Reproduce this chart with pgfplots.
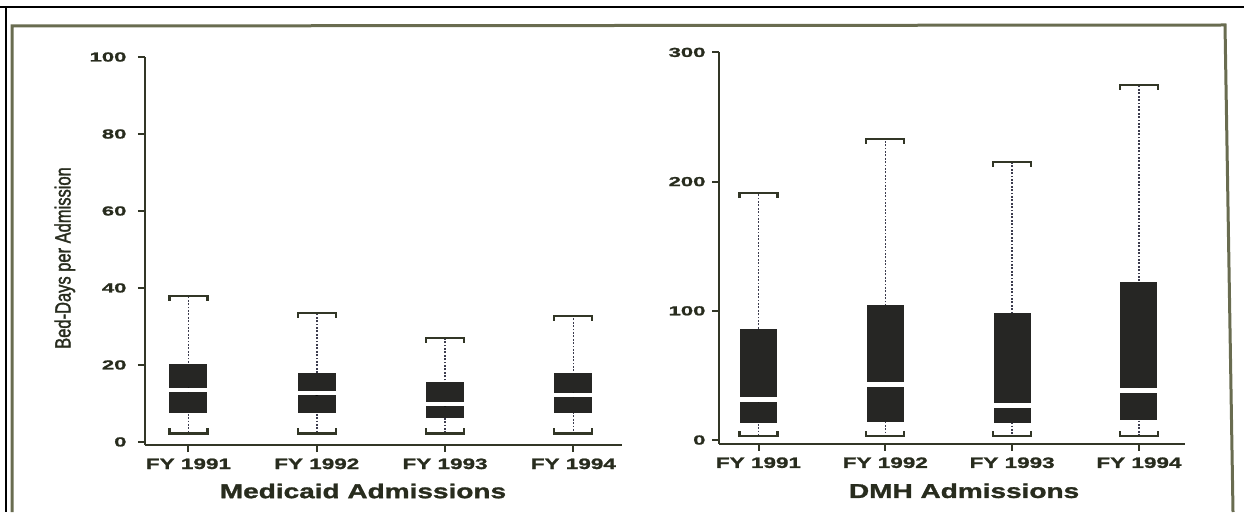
\documentclass[border=0pt]{standalone}
\usepackage{pgfplots}
\usepackage{pgfplotstable}
\pgfplotsset{compat=1.18}
\usepackage{fontspec}
\setmainfont{Liberation Sans}
\newfontfamily\ytickfont[FakeStretch=1.7, FakeBold=1.5]{Liberation Sans}
\newfontfamily\xtickfont[FakeStretch=1.5, FakeBold=1.5]{Liberation Sans}
\newfontfamily\titlefont[FakeStretch=1.4, FakeBold=1.5]{Liberation Sans}
\newfontfamily\ylabfont[FakeStretch=0.75, FakeBold=1.5]{Liberation Sans}
\definecolor{ink}{RGB}{40,44,30}
\definecolor{axc}{RGB}{50,54,38}
\definecolor{boxc}{RGB}{38,38,36}
\definecolor{whc}{RGB}{60,60,78}
\definecolor{framec}{RGB}{105,108,80}

\pgfdeclareplotmark{capup}{%
  \pgfpathmoveto{\pgfqpoint{-19pt}{-5pt}}%
  \pgfpathlineto{\pgfqpoint{-19pt}{0pt}}%
  \pgfpathlineto{\pgfqpoint{19pt}{0pt}}%
  \pgfpathlineto{\pgfqpoint{19pt}{-5pt}}%
  \pgfusepathqstroke}
\pgfdeclareplotmark{capdown}{%
  \pgfpathmoveto{\pgfqpoint{-19pt}{5pt}}%
  \pgfpathlineto{\pgfqpoint{-19pt}{0pt}}%
  \pgfpathlineto{\pgfqpoint{19pt}{0pt}}%
  \pgfpathlineto{\pgfqpoint{19pt}{5pt}}%
  \pgfusepathqstroke}

% pos lw q1 med q3 uw
\pgfplotstableread{
pos lw  q1  med  q3   uw
1   2.2 7.6 13.5 20.3 38.0
2   2.2 7.6 12.6 17.8 33.5
3   2.2 6.3 9.8  15.5 27.0
4   2.2 7.6 12.2 17.8 32.8
}\medicaid
\pgfplotstableread{
pos lw  q1   med  q3    uw
1   3   12.9 31   85.7  191
2   3   14.2 43.3 104.5 233
3   3   13   27   98    215.4
4   3   15.5 38.7 122.5 274.8
}\dmh

\pgfplotsset{
  mybox/.style={
    /pgf/number format/assume math mode=true,
    scale only axis, anchor=south west,
    axis x line*=bottom, axis y line*=left,
    axis line style={axc, line width=2.5pt, -},
    xtick={1,2,3,4},
    xticklabels={FY 1991, FY 1992, FY 1993, FY 1994},
    tick align=outside,
    major tick length=7pt,
    tick style={axc, line width=2pt},
    xticklabel style={font=\xtickfont\bfseries\fontsize{15pt}{17pt}\selectfont, text=ink, yshift=-3pt},
    yticklabel style={font=\ytickfont\bfseries\fontsize{13pt}{15pt}\selectfont, text=ink},
    xlabel style={font=\titlefont\bfseries\fontsize{20pt}{22pt}\selectfont, text=ink, anchor=base},
    clip=false,
  },
}
\newcommand\drawboxes[3]{% table, box width, median width
  \addplot[only marks, mark=none, error bars/.cd, y dir=both, y explicit, error mark=none,
    error bar style={draw=whc, line width=1.5pt, dash pattern=on 1.8pt off 1.6pt}]
    table[x=pos, y=med, y error plus expr=\thisrow{uw}-\thisrow{med}, y error minus expr=\thisrow{med}-\thisrow{lw}] {#1};
  \addplot[only marks, mark=none, error bars/.cd, y dir=both, y explicit, error mark=none,
    error bar style={draw=boxc, line width=#2, solid}]
    table[x=pos, y=med, y error plus expr=\thisrow{q3}-\thisrow{med}, y error minus expr=\thisrow{med}-\thisrow{q1}] {#1};
  \addplot[only marks, mark=-, mark size=0.5*#2, mark options={draw=white, line width=#3}]
    table[x=pos, y=med] {#1};
  \addplot[only marks, mark=capup, mark options={draw=axc, line width=2.2pt}]
    table[x=pos, y=uw] {#1};
  \addplot[only marks, mark=capdown, mark options={draw=axc, line width=2.2pt}]
    table[x=pos, y=lw] {#1};
}

\begin{document}
\begin{tikzpicture}
\useasboundingbox (0pt,0pt) rectangle (1244pt,512pt);
\draw[black, line width=2pt] (0pt,504.5pt) -- (1244pt,504.5pt);
\draw[black, line width=2pt] (6pt,505.5pt) -- (6pt,0pt);
\draw[framec, line width=3pt] (12pt,0pt) -- (12pt,486pt) -- (1225pt,487pt) -- (1233pt,0pt);

\begin{axis}[mybox,
  at={(145pt,67pt)}, width=477pt, height=388pt,
  xmin=0.661, xmax=4.379, ymin=-0.8, ymax=100,
  ytick={0,20,40,60,80,100},
  yticklabel style={xshift=-8pt},
  xlabel={Medicaid Admissions},
  xlabel style={at={(axis description cs:0.457,-0.137)}},
  ylabel={Bed-Days per Admission},
  ylabel style={at={(axis description cs:-0.168,0.482)}, anchor=center,
    font=\ylabfont\fontsize{22pt}{24pt}\selectfont, text=ink},
]
\drawboxes{\medicaid}{38pt}{4pt}
\end{axis}

\begin{axis}[mybox,
  at={(719pt,68.1pt)}, width=466pt, height=391.5pt,
  xmin=0.6885, xmax=4.363, ymin=-3, ymax=300,
  ytick={0,100,200,300},
  yticklabel style={xshift=-3pt},
  xlabel={DMH Admissions},
  xlabel style={at={(axis description cs:0.526,-0.138)}},
]
\drawboxes{\dmh}{37pt}{5pt}
\end{axis}
\end{tikzpicture}
\end{document}
